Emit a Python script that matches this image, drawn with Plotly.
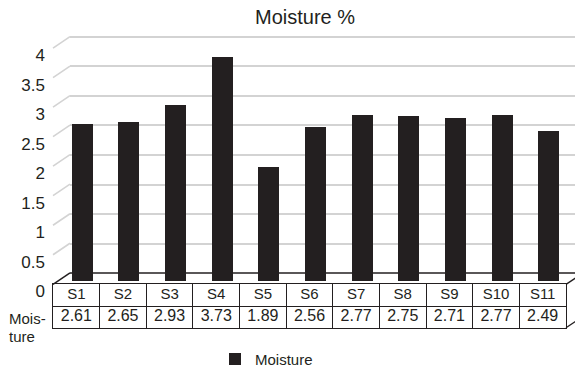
import plotly.graph_objects as go

# ---- data -------------------------------------------------------------
samples = ["S1", "S2", "S3", "S4", "S5", "S6", "S7", "S8", "S9", "S10", "S11"]
moisture = [2.61, 2.65, 2.93, 3.73, 1.89, 2.56, 2.77, 2.75, 2.71, 2.77, 2.49]
grid_ticks = [0, 0.5, 1, 1.5, 2, 2.5, 3, 3.5, 4]
series_name = "Moisture"
row_header = ["Mois-", "ture"]
chart_title = "Moisture %"

# ---- geometry (pixels) ------------------------------------------------
W, H = 575, 376
INK = "#231f20"
GRID = "#d3d3d3"
FONT = "Liberation Sans, Arial"


def px(x):
    return x / W


def py(y):
    return (H - y) / H


PLOT_BOTTOM, PLOT_TOP = 302, 30          # shared vertical extent of the value axes
DEPTH_DX, DEPTH_DY = 17, 11.5            # 3-D depth offset of the back wall
FRONT_X = 53                             # left edge of floor / table
TABLE_RIGHT = 566
TABLE_TOP, TABLE_BOTTOM = 289, 333

FRONT_ZERO, BACK_ZERO, BAR_ZERO = 296, 277.5, 285
UNIT_FRONT, UNIT_BACK, UNIT_BAR = 60, 60, 61
LABEL_DROP = FRONT_ZERO - TABLE_TOP      # front labels sit below the floor corner


def axis_range(zero_px, unit):
    return [(zero_px - PLOT_BOTTOM) / unit, (zero_px - PLOT_TOP) / unit]


def back_on_bar_axis(v):
    """Value on the bar axis whose pixel row is the back-wall gridline of v."""
    return (BAR_ZERO - (BACK_ZERO - UNIT_BACK * v)) / UNIT_BAR


col_w = (TABLE_RIGHT - FRONT_X) / len(samples)
bar_x0 = FRONT_X + DEPTH_DX
first_center = FRONT_X + col_w / 2 + 6
x_range = [-(first_center - bar_x0) / col_w,
           -(first_center - bar_x0) / col_w + (W - bar_x0) / col_w]

fig = go.Figure()

fig.add_trace(go.Bar(
    x=samples, y=moisture, name=series_name,
    marker=dict(color=INK, line=dict(width=0)),
    width=0.45, xaxis="x", yaxis="y", hoverinfo="x+y",
))

# data table text
fig.add_trace(go.Scatter(
    x=samples, y=[1.5] * len(samples), text=samples, mode="text",
    textfont=dict(family=FONT, size=15, color=INK),
    xaxis="x2", yaxis="y4", showlegend=False, hoverinfo="skip",
))
fig.add_trace(go.Scatter(
    x=samples, y=[0.5] * len(samples), text=[f"{v:.2f}" for v in moisture],
    mode="text", textfont=dict(family=FONT, size=16, color=INK),
    xaxis="x2", yaxis="y4", showlegend=False, hoverinfo="skip",
))

shapes = []
# connectors from the front tick positions to the back wall gridlines
for v in grid_ticks:
    shapes.append(dict(
        type="line", xref="paper", yref="y3", ysizemode="pixel", yanchor=v,
        x0=px(FRONT_X), x1=px(FRONT_X + DEPTH_DX),
        y0=LABEL_DROP, y1=LABEL_DROP + DEPTH_DY,
        line=dict(color=INK if v == 0 else GRID, width=1.5 if v == 0 else 1.6),
        layer="below",
    ))
# back edge of the floor
shapes.append(dict(
    type="line", xref="paper", yref="y", x0=px(bar_x0), x1=1,
    y0=back_on_bar_axis(0), y1=back_on_bar_axis(0),
    line=dict(color=INK, width=1.4), layer="below",
))
# right-hand side of the floor / table block
for ytop in (TABLE_TOP, TABLE_BOTTOM):
    shapes.append(dict(
        type="line", xref="paper", yref="paper",
        x0=px(TABLE_RIGHT), y0=py(ytop),
        x1=px(TABLE_RIGHT + DEPTH_DX), y1=py(ytop - DEPTH_DY),
        line=dict(color=INK, width=1.3),
    ))

fig.update_layout(
    width=W, height=H,
    margin=dict(l=0, r=0, t=0, b=0),
    paper_bgcolor="white", plot_bgcolor="rgba(0,0,0,0)",
    font=dict(family=FONT, size=15, color=INK),
    title=dict(text=chart_title, x=px(305), y=py(17), xanchor="center",
               yanchor="middle", xref="paper", yref="paper",
               font=dict(family=FONT, size=20, color=INK)),
    bargap=0,
    xaxis=dict(domain=[px(bar_x0), 1], range=x_range, type="category",
               categoryarray=samples, categoryorder="array",
               showticklabels=False, ticks="", showgrid=False,
               zeroline=False, showline=False, anchor="y"),
    # bar scale; its gridlines are placed on the back wall
    yaxis=dict(domain=[py(PLOT_BOTTOM), py(PLOT_TOP)],
               range=axis_range(BAR_ZERO, UNIT_BAR),
               tickmode="array",
               tickvals=[back_on_bar_axis(v) for v in grid_ticks[1:]],
               showgrid=True, gridcolor=GRID, gridwidth=2,
               zeroline=False, showticklabels=False, ticks="",
               showline=False, anchor="x"),
    # front value labels
    yaxis3=dict(overlaying="y", anchor="free", position=px(FRONT_X - 8),
                side="left", range=axis_range(FRONT_ZERO, UNIT_FRONT),
                tickmode="array", tickvals=grid_ticks,
                ticktext=[f"{v:g}" for v in grid_ticks],
                showgrid=False, zeroline=False, showline=False, ticks="",
                tickfont=dict(family=FONT, size=17, color=INK)),
    xaxis2=dict(domain=[px(FRONT_X), px(TABLE_RIGHT)], type="category",
                categoryarray=samples, categoryorder="array",
                range=[-0.5, len(samples) - 0.5], tickson="boundaries",
                showgrid=True, gridcolor=INK, gridwidth=1.3,
                showticklabels=False, ticks="", zeroline=False,
                showline=True, mirror=True, linecolor=INK, linewidth=1.3,
                anchor="y4"),
    yaxis4=dict(domain=[py(TABLE_BOTTOM), py(TABLE_TOP)], range=[0, 2],
                tick0=0, dtick=1, showgrid=True, gridcolor=INK, gridwidth=1.3,
                showticklabels=False, ticks="", zeroline=False,
                showline=True, mirror=True, linecolor=INK, linewidth=1.3,
                anchor="x2"),
    shapes=shapes,
    showlegend=True,
    legend=dict(orientation="h", x=px(215), y=py(365), xanchor="left",
                yanchor="middle", bgcolor="rgba(0,0,0,0)",
                font=dict(family=FONT, size=15, color=INK)),
    annotations=[
        dict(text=row_header[0], xref="paper", yref="paper", x=px(7),
             y=py(324), xanchor="left", yanchor="middle", showarrow=False,
             font=dict(family=FONT, size=15, color=INK)),
        dict(text=row_header[1], xref="paper", yref="paper", x=px(7),
             y=py(341.5), xanchor="left", yanchor="middle", showarrow=False,
             font=dict(family=FONT, size=15, color=INK)),
    ],
)

fig.write_html("out.html")
